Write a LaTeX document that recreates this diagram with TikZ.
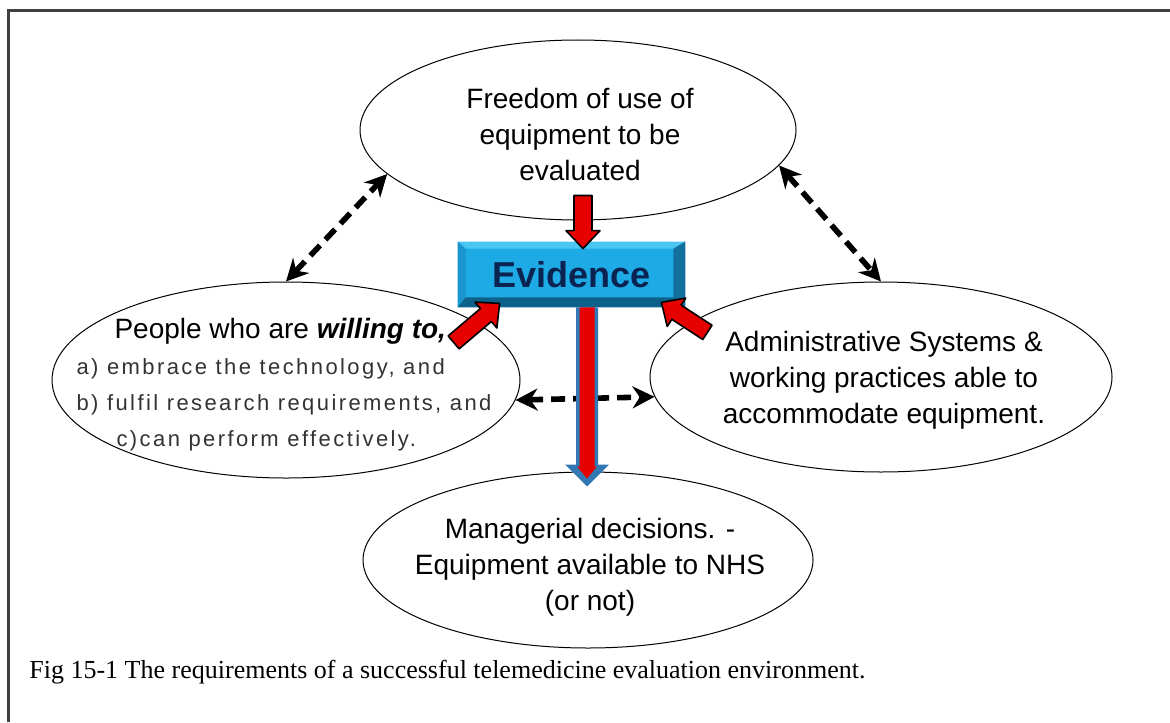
\documentclass[tikz,border=0pt]{standalone}
\usepackage{fontspec}
\setmainfont{Liberation Serif}
\newfontfamily\arialf{Liberation Sans}
\newfontfamily\arialsp[LetterSpace=11]{Liberation Sans}
\usetikzlibrary{arrows.meta,positioning,calc,shapes.geometric}
\definecolor{redarr}{RGB}{230,0,0}
\definecolor{bluearr}{RGB}{50,120,180}
\definecolor{evface}{RGB}{30,170,228}
\definecolor{evtop}{RGB}{75,198,242}
\definecolor{evleft}{RGB}{25,150,205}
\definecolor{evright}{RGB}{18,112,158}
\definecolor{evbot}{RGB}{12,98,138}
\definecolor{evtext}{RGB}{10,35,80}
\tikzset{bubble/.style={draw,ellipse,fill=white,line width=0.5pt,inner sep=0pt},
 txt/.style={align=center,inner sep=0pt,font=\arialf\fontsize{14}{18}\selectfont},
 evbox/.style={fill=evface,inner sep=0pt,minimum width=113.5pt,minimum height=32.5pt,
   text=evtext,font=\arialf\bfseries\fontsize{18}{20}\selectfont},
 dasharrow/.style={{Stealth[length=11pt,width=11pt]}-{Stealth[length=11pt,width=11pt]},line width=2.8pt,dash pattern=on 7pt off 4pt},
 redblock/.style={fill=redarr,draw=black,line width=0.8pt,line join=round},
 blueblock/.style={fill=bluearr,draw=none},
 innerred/.style={fill=redarr,draw=none}}
\newcommand{\sublist}{\arialsp\fontsize{11}{15}\selectfont\color{black!80}}
% block arrow: style, tail, tip, half shaft, half head, head length
\newcommand{\blockarrow}[6]{%
 \draw[#1] ($(#2)!#4!90:(#3)$) -- ($(#3)!#6!(#2)!#4!90:(#3)$) -- ($(#3)!#6!(#2)!#5!90:(#3)$)
  -- (#3) -- ($(#3)!#6!(#2)!#5!-90:(#3)$) -- ($(#3)!#6!(#2)!#4!-90:(#3)$) -- ($(#2)!#4!-90:(#3)$) -- cycle;}

\begin{document}
\begin{tikzpicture}[x=0.5pt,y=-0.5pt]
\useasboundingbox (0,0) rectangle (1170,722);
\draw[line width=1.5pt,black!75] (8,722) -- (8,11) -- (1170,11);

\node[bubble,minimum width=218pt,minimum height=90pt] (free) at (578,130) {};
\node[txt] (freetxt) at (580,134) {Freedom of use of\\equipment to be\\evaluated};
\node[bubble,minimum width=234pt,minimum height=98pt] (people) at (286,380) {};
\node[txt,align=left] (peopletxt) at (284,385) {\hspace*{19pt}People who are \textbf{\textit{willing to,}}\\
 \sublist a) embrace the technology, and\\ \sublist b) fulfil research requirements, and\\ \sublist\hspace*{20pt}c)can perform effectively.};
\node[bubble,minimum width=231pt,minimum height=95pt] (admin) at (881,377) {};
\node[txt] (admintxt) at (884,380) {Administrative Systems \&\\working practices able to\\accommodate equipment.};
\node[bubble,minimum width=225pt,minimum height=88pt] (manage) at (588,560) {};
\node[txt] (managetxt) at (590,567) {Managerial decisions. -\\Equipment available to NHS\\(or not)};

\draw[dasharrow] (people.north) -- (free.193);
\draw[dasharrow] (free.-10) -- (admin.north);
\draw[dasharrow] (people.-5) -- (admin.185);

% evidence box with bevel
\node[evbox] (evid) at (571.5,274.5) {Evidence};
\fill[evtop] (evid.north west) -- (evid.north east) -- ($(evid.north east)+(-12,7)$) -- ($(evid.north west)+(8,7)$) -- cycle;
\fill[evleft] (evid.north west) -- ($(evid.north west)+(8,7)$) -- ($(evid.south west)+(8,-10)$) -- (evid.south west) -- cycle;
\fill[evright] (evid.north east) -- ($(evid.north east)+(-12,7)$) -- ($(evid.south east)+(-12,-10)$) -- (evid.south east) -- cycle;
\fill[evbot] (evid.south west) -- ($(evid.south west)+(8,-10)$) -- ($(evid.south east)+(-12,-10)$) -- (evid.south east) -- cycle;

\coordinate (fA) at ($(free.south)+(5,-25)$);
\coordinate (fB) at ($(evid.north)+(11.5,7)$);
\coordinate (pA) at ($(evid.south west)+(-4,35)$);
\coordinate (pB) at ($(evid.south west)+(42,-4)$);
\coordinate (aA) at ($(evid.south east)+(22,25)$);
\coordinate (aB) at ($(evid.south east)+(-24,-5)$);
\coordinate (eA) at ($(evid.south)+(15.5,0)$);
\coordinate (eB) at ($(manage.north)+(-1,15)$);
\coordinate (eC) at ($(manage.north)+(-1,7)$);

\blockarrow{redblock}{fA}{fB}{4.5pt}{8.5pt}{9pt}
\blockarrow{redblock}{pA}{pB}{4.25pt}{8.5pt}{9pt}
\blockarrow{redblock}{aA}{aB}{4.25pt}{8.5pt}{9pt}
\blockarrow{blueblock}{eA}{eB}{5.5pt}{11pt}{11pt}
\blockarrow{innerred}{eA}{eC}{3.75pt}{5pt}{6pt}

\node[anchor=west,inner sep=0pt,font=\fontsize{13}{15}\selectfont] (cap) at (29,672) {Fig 15-1 The requirements of a successful telemedicine evaluation environment.};
\end{tikzpicture}
\end{document}
